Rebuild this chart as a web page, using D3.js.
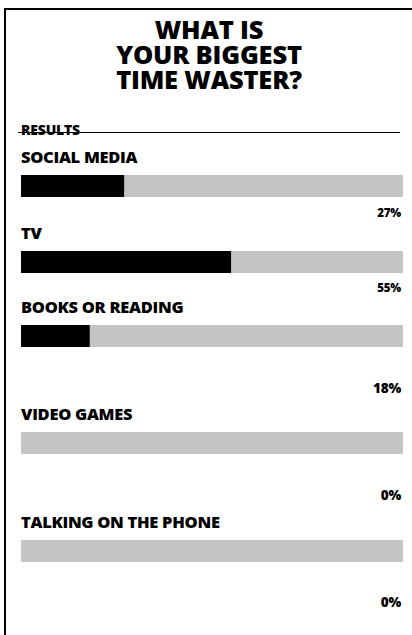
<!DOCTYPE html>
<html>
<head>
<meta charset="utf-8">
<script src="https://cdn.jsdelivr.net/npm/d3@7"></script>
<style>
  html, body { margin: 0; padding: 0; background: #fff; }
  svg { display: block; }
  text { font-family: "Open Sans", "Noto Sans", sans-serif; font-weight: 800; fill: #000; }
</style>
</head>
<body>
<script>
// ---- data ----
const titleLines = ["WHAT IS", "YOUR BIGGEST", "TIME WASTER?"];
const sectionLabel = "RESULTS";
const categories = ["SOCIAL MEDIA", "TV", "BOOKS OR READING", "VIDEO GAMES", "TALKING ON THE PHONE"];
const values = [27, 55, 18, 0, 0];
const valueLabels = ["27%", "55%", "18%", "0%", "0%"];

// ---- layout (not data) ----
const W = 412, H = 635;
const barTops = [175, 251, 325, 432, 540];
const pctOffsets = [42, 41, 68, 68, 67];
const pctSizes = [11.5, 11.5, 13.5, 13.5, 13.5];

const svg = d3.select("body").append("svg").attr("width", W).attr("height", H);

// frame
svg.append("rect").attr("x", 4).attr("y", 8).attr("width", W).attr("height", 2).attr("fill", "#000");
svg.append("rect").attr("x", 4).attr("y", 8).attr("width", 2).attr("height", H).attr("fill", "#000");

// title (one text element, lines as tspans)
const title = svg.append("text")
  .attr("text-anchor", "middle")
  .attr("font-size", 25.5)
  .attr("letter-spacing", -0.2);
title.selectAll("tspan").data(titleLines).join("tspan")
  .attr("x", 209).attr("y", (d, i) => 38.5 + i * 25)
  .text(d => d);

// results heading
svg.append("line").attr("x1", 18).attr("x2", 400).attr("y1", 132.5).attr("y2", 132.5)
  .attr("stroke", "#000").attr("stroke-width", 1);
svg.append("text").attr("x", 21).attr("y", 134.5).attr("font-size", 14).attr("letter-spacing", -0.2).text(sectionLabel);

// scales
const x = d3.scaleLinear().domain([0, 100]).range([21, 403]);

const g = svg.selectAll("g.row").data(categories.map((c, i) => ({ c, v: values[i], l: valueLabels[i], i })))
  .join("g").attr("class", "row");

g.append("text")
  .attr("x", 21).attr("y", d => barTops[d.i] - 12.5)
  .attr("font-size", 16.5)
  .attr("letter-spacing", -0.3)
  .text(d => d.c);

g.append("rect")
  .attr("x", x(0)).attr("y", d => barTops[d.i])
  .attr("width", x(100) - x(0)).attr("height", 22)
  .attr("fill", "#c4c4c4");

g.append("rect")
  .attr("x", x(0)).attr("y", d => barTops[d.i])
  .attr("width", d => x(d.v) - x(0)).attr("height", 22)
  .attr("fill", "#000");

g.append("text")
  .attr("x", 401).attr("y", d => barTops[d.i] + pctOffsets[d.i])
  .attr("text-anchor", "end")
  .attr("font-size", d => pctSizes[d.i])
  .attr("letter-spacing", -0.2)
  .text(d => d.l);
</script>
</body>
</html>
